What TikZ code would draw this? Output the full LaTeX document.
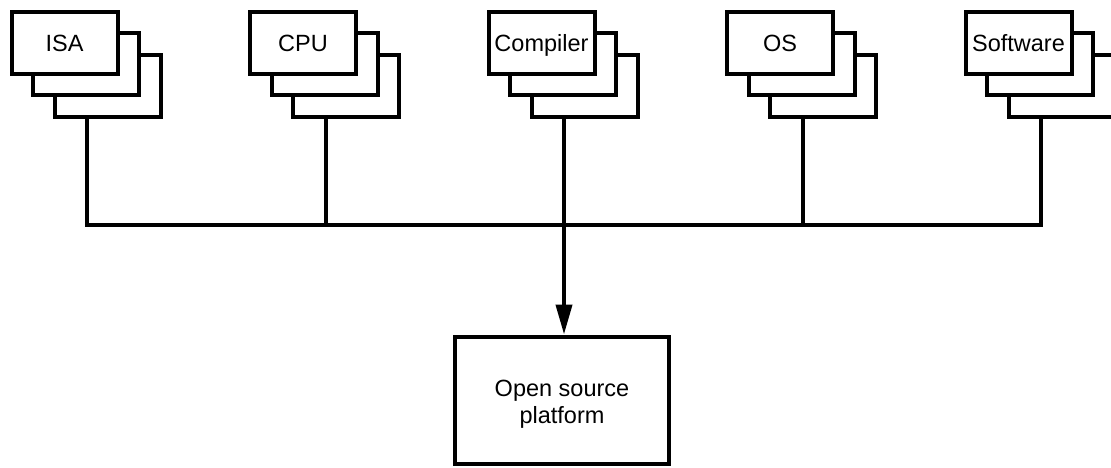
\documentclass[tikz,border=0pt]{standalone}
\usepackage{fontspec}
\setmainfont{Liberation Sans}
\usetikzlibrary{arrows.meta}
\begin{document}
\begin{tikzpicture}[x=1pt,y=-1pt,
  card/.style={draw,line width=4pt,fill=white,minimum width=106pt,minimum height=62pt,inner sep=0pt,text height=17pt,text depth=0pt,font=\fontsize{23.5}{27}\selectfont},
  wire/.style={line width=4pt},
  plat/.style={draw,line width=4pt,minimum width=214pt,minimum height=127pt},
  plattext/.style={align=center,font=\fontsize{23.5}{27}\selectfont,yshift=-4pt}]
\useasboundingbox (0,0) rectangle (1111,467);
\foreach \n/\t/\x in {isa/ISA/64.5, cpu/CPU/303, comp/Compiler/541.5, os/OS/780, sw/Software/1018.5}{
  \node[card] (\n C) at (\x+43,85.5) {};
  \node[card] (\n B) at (\x+21.5,64) {};
  \node[card] (\n A) at (\x,42.5) {\t};
  \coordinate (\n J) at (\x+22.5,225);
  \draw[wire] (\n J |- \n C.south) -- (\n J);
}
\draw[wire,line cap=rect] (isaJ) -- (swJ);
\node[plat,label={[plattext]center:Open source\\platform}] (plat) at (562,400) {};
\draw[wire,-{Triangle[length=30pt,width=16pt]}] (compJ) -- (compJ |- plat.north);
\end{tikzpicture}
\end{document}
